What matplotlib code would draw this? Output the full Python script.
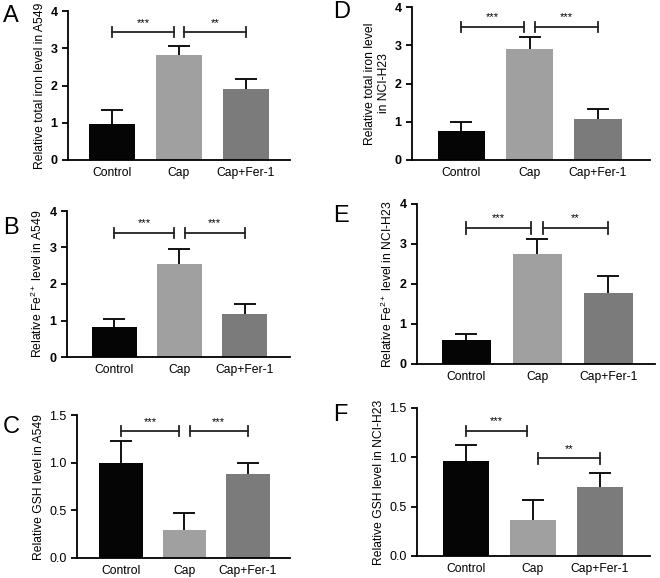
import matplotlib
matplotlib.use("Agg")
import matplotlib.pyplot as plt
from matplotlib.ticker import FormatStrFormatter

plt.rcParams['font.family'] = ['Liberation Sans', 'DejaVu Sans']
plt.rcParams['mathtext.fontset'] = 'custom'
plt.rcParams['mathtext.rm'] = 'Liberation Sans'
plt.rcParams['mathtext.it'] = 'Liberation Sans:italic'
plt.rcParams['mathtext.bf'] = 'Liberation Sans:bold'

categories = ["Control", "Cap", "Cap+Fer-1"]
bar_colors = ["#050505", "#a0a0a0", "#7b7b7b"]

# Panel data
A_vals = [0.97, 2.82, 1.90]
A_err = [0.37, 0.24, 0.28]
B_vals = [0.82, 2.55, 1.17]
B_err = [0.21, 0.41, 0.28]
C_vals = [1.00, 0.29, 0.88]
C_err = [0.23, 0.18, 0.12]
D_vals = [0.77, 2.90, 1.06]
D_err = [0.22, 0.31, 0.27]
E_vals = [0.60, 2.75, 1.78]
E_err = [0.15, 0.37, 0.41]
F_vals = [0.96, 0.36, 0.70]
F_err = [0.17, 0.21, 0.14]

# significance: (from, to, y, label)
A_sig = [(0, 1, 3.43, "***"), (1, 2, 3.43, "**")]
B_sig = [(0, 1, 3.40, "***"), (1, 2, 3.40, "***")]
C_sig = [(0, 1, 1.33, "***"), (1, 2, 1.33, "***")]
D_sig = [(0, 1, 3.48, "***"), (1, 2, 3.48, "***")]
E_sig = [(0, 1, 3.40, "***"), (1, 2, 3.40, "**")]
F_sig = [(0, 1, 1.27, "***"), (1, 2, 0.99, "**")]

W, H = 660, 578
fig = plt.figure(figsize=(W / 100, H / 100), dpi=100)


def make_ax(l, t, r, b):
    return fig.add_axes([l / W, 1 - b / H, (r - l) / W, (b - t) / H])


panels = [
    ("A", (68, 11, 290, 160), A_vals, A_err, A_sig,
     "Relative total iron level in A549", 4, [0, 1, 2, 3, 4], True, (-0.66, 2.66), (3, 16)),
    ("B", (67, 211, 290, 357), B_vals, B_err, B_sig,
     "Relative Fe$^{2+}$ level in A549", 4, [0, 1, 2, 3, 4], True, (-0.72, 2.69), (3, 228)),
    ("C", (77, 415, 290, 558), C_vals, C_err, C_sig,
     "Relative GSH level in A549", 1.5, [0.0, 0.5, 1.0, 1.5], False, (-0.69, 2.66), (3, 427)),
    ("D", (412, 7, 650, 160), D_vals, D_err, D_sig,
     "Relative total iron level\nin NCI-H23", 4, [0, 1, 2, 3, 4], True, (-0.72, 2.76), (333, 12)),
    ("E", (417, 204, 655, 364), E_vals, E_err, E_sig,
     "Relative Fe$^{2+}$ level in NCI-H23", 4, [0, 1, 2, 3, 4], True, (-0.69, 2.66), (333, 216)),
    ("F", (417, 408, 650, 556), F_vals, F_err, F_sig,
     "Relative GSH level in NCI-H23", 1.5, [0.0, 0.5, 1.0, 1.5], False, (-0.73, 2.75), (333, 415)),
]

for letter, rect, vals, err, sig, ylabel, ymax, yticks, bold, xlim, lpos in panels:
    ax = make_ax(*rect)
    x = list(range(len(categories)))
    ax.bar(x, vals, width=0.69, color=bar_colors, zorder=2)
    _, caps, _ = ax.errorbar(x, vals, yerr=[[0] * 3, err], fmt="none", ecolor="#111111",
                             elinewidth=1.4, capsize=8, capthick=1.4, zorder=3)
    if len(caps) == 2:
        caps[0].set_visible(False)
    ax.set_xlim(*xlim)
    ax.set_ylim(0, ymax)
    ax.set_yticks(yticks)
    if ymax < 2:
        ax.yaxis.set_major_formatter(FormatStrFormatter("%.1f"))
    ax.set_xticks(x)
    ax.set_xticklabels(categories, fontsize=8.7)
    ax.tick_params(axis="x", length=0, pad=5)
    ax.tick_params(axis="y", length=4, width=1.3, labelsize=9)
    if bold:
        for lab in ax.get_yticklabels():
            lab.set_fontweight("bold")
    for s in ("top", "right"):
        ax.spines[s].set_visible(False)
    for s in ("left", "bottom"):
        ax.spines[s].set_linewidth(1.3)
    ax.set_ylabel(ylabel, fontsize=8.7, labelpad=3)
    hh = ymax * 0.035
    for (i, j, y, lab) in sig:
        x0 = i + (0.08 if i == 1 else 0.0)
        x1 = j - (0.08 if j == 1 else 0.0)
        ax.plot([x0, x1], [y, y], color="#222222", lw=1.3, clip_on=False)
        ax.plot([x0, x0], [y - hh, y + hh], color="#222222", lw=1.3, clip_on=False)
        ax.plot([x1, x1], [y - hh, y + hh], color="#222222", lw=1.3, clip_on=False)
        ax.text((x0 + x1) / 2, y + ymax * 0.03, lab, ha="center", va="bottom",
                fontsize=8, clip_on=False)
    fig.text(lpos[0] / W, 1 - lpos[1] / H, letter, fontsize=17, ha="left", va="center")

fig.savefig("out.png", dpi=100)
